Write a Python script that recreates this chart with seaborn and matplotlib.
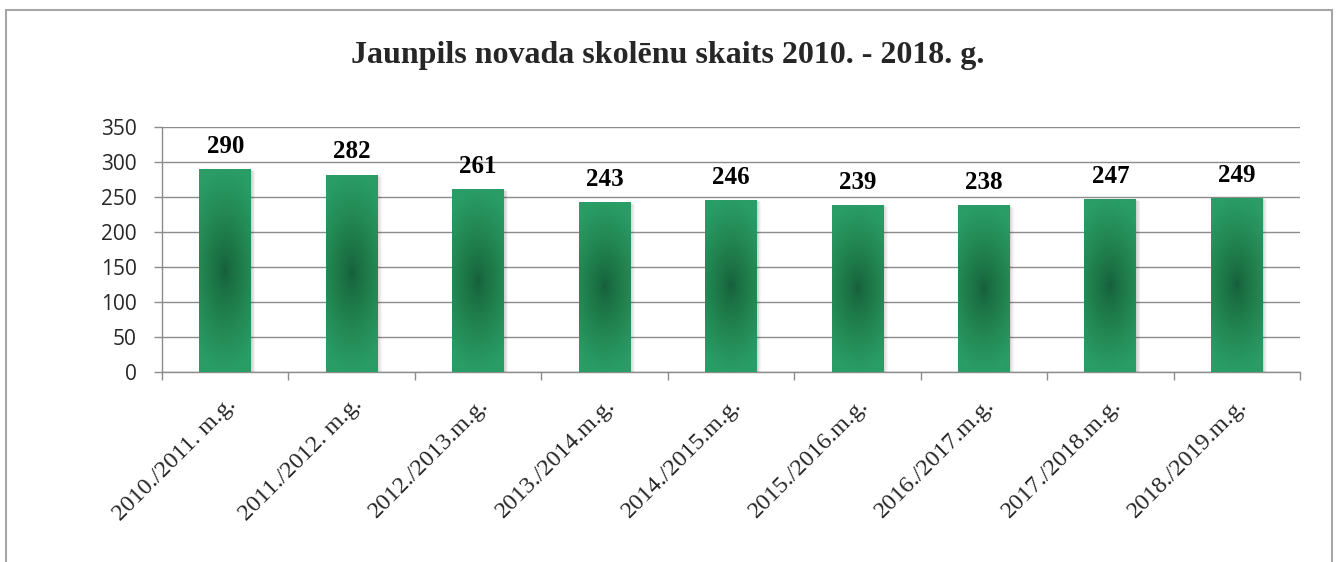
import numpy as np
import pandas as pd
import matplotlib
matplotlib.use("Agg")
import matplotlib.pyplot as plt
import seaborn as sns
from matplotlib.patches import Rectangle
from matplotlib.colors import LinearSegmentedColormap

title = "Jaunpils novada skolēnu skaits 2010. - 2018. g."
categories = ["2010./2011. m.g.", "2011./2012. m.g.", "2012./2013.m.g.", "2013./2014.m.g.",
              "2014./2015.m.g.", "2015./2016.m.g.", "2016./2017.m.g.", "2017./2018.m.g.",
              "2018./2019.m.g."]
values = [290, 282, 261, 243, 246, 239, 238, 247, 249]
yticks = [0, 50, 100, 150, 200, 250, 300, 350]

sns.set_theme(style="white")
plt.rcParams['font.family'] = ['Liberation Serif', 'DejaVu Serif']

df = pd.DataFrame({"cat": categories, "val": values})

fig = plt.figure(figsize=(13.36, 5.62), dpi=100)
ax = fig.add_axes([162/1336, 1-372/562, (1300-162)/1336, (372-127)/562])

sns.barplot(data=df, x="cat", y="val", ax=ax, color="#2a9d63", width=0.41,
            saturation=1, edgecolor="none", zorder=3)

ax.set_ylim(0, 350)
ax.set_xlim(-0.5, len(categories) - 0.5)
ax.set_yticks(yticks)
ax.set_yticklabels([str(v) for v in yticks], fontfamily="Open Sans", fontsize=15)
ax.set_xlabel("")
ax.set_ylabel("")

grid_c = "#8c8c8c"
ax.grid(axis="y", color=grid_c, linewidth=1.0, zorder=0)
ax.set_axisbelow(True)
for s in ["top", "right"]:
    ax.spines[s].set_visible(False)
for s in ["left", "bottom"]:
    ax.spines[s].set_color(grid_c)
    ax.spines[s].set_linewidth(1.0)

ax.tick_params(axis="y", which="major", left=True, direction="out", length=6, width=1,
               color=grid_c, pad=12)
ax.set_xticks(np.arange(len(categories)))
ax.set_xticklabels(categories, rotation=45, ha="right", rotation_mode="anchor",
                   fontsize=17.5, fontfamily="Liberation Serif")
ax.tick_params(axis="x", which="major", bottom=False, pad=10)
ax.set_xticks(np.arange(len(categories) + 1) - 0.5, minor=True)
ax.tick_params(axis="x", which="minor", bottom=True, direction="out", length=6, width=1,
               color=grid_c)

cmap = LinearSegmentedColormap.from_list("g", ["#165f3b", "#1f7d4b", "#2a9d66"])
ny, nx = 200, 60
yy, xx = np.mgrid[-1:1:ny*1j, -1:1:nx*1j]
t = np.sqrt(0.35 * xx**2 + yy**2)
t = np.clip(t, 0, 1) ** 0.7
for p in ax.patches:
    x0, y0 = p.get_x(), p.get_y()
    w, h = p.get_width(), p.get_height()
    for k in range(1, 6):
        d = k * 0.006
        sh = Rectangle((x0 + d * 0.6, y0 - k * 0.6), w + d * 0.5, h, facecolor="black",
                       alpha=0.035, edgecolor="none", zorder=2.5)
        ax.add_patch(sh)
    im = ax.imshow(t, cmap=cmap, extent=[x0, x0 + w, y0, y0 + h], aspect="auto",
                   origin="lower", zorder=3.5, interpolation="bilinear")
    im.set_clip_path(p)

for i, v in enumerate(values):
    ax.annotate(str(v), xy=(i, v), xytext=(0, 8), textcoords="offset points",
                ha="center", va="bottom", fontsize=18, fontweight="bold",
                fontfamily="Liberation Serif", color="black")

ax.set_xlim(-0.5, len(categories) - 0.5)
ax.set_ylim(0, 350)

fig.text(0.5, 1 - 63/562, title, ha="center", va="baseline", fontsize=23,
         fontweight="bold", fontfamily="Liberation Serif")

border = Rectangle((6/1336, -0.2), (1332-6)/1336, 1.2 - 10/562, transform=fig.transFigure,
                   fill=False, edgecolor="#a6a6a6", linewidth=1.5, clip_on=False)
fig.patches.append(border)

fig.savefig("out.png", dpi=100)
